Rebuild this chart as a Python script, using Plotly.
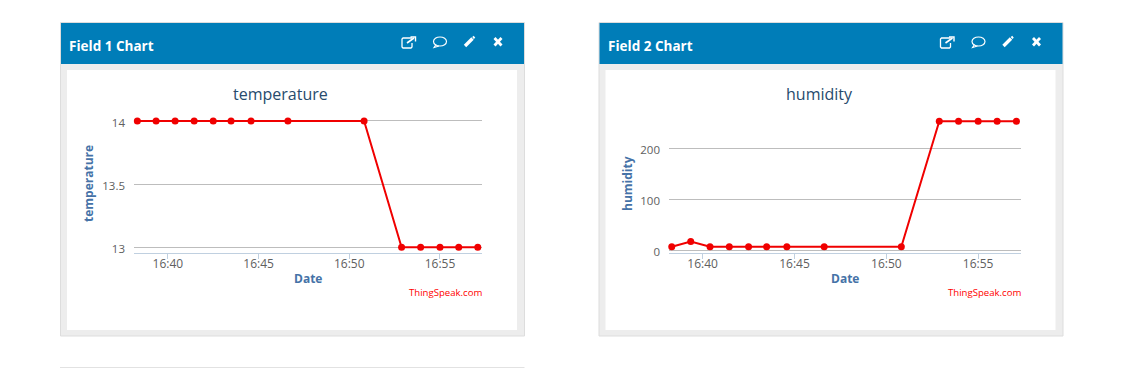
import plotly.graph_objects as go

DAY = "2015-06-01 "
times = ["16:38:19", "16:39:21", "16:40:24", "16:41:27", "16:42:30", "16:43:29", "16:44:35",
         "16:46:37", "16:50:49", "16:52:53", "16:53:56", "16:55:00", "16:56:02", "16:57:05"]
temperature = [14, 14, 14, 14, 14, 14, 14, 14, 14, 13, 13, 13, 13, 13]
humidity = [7, 17, 7, 7, 7, 7, 7, 7, 7, 253, 253, 253, 253, 253]
x_tick_times = ["16:40", "16:45", "16:50", "16:55"]
temp_ticks = [13, 13.5, 14]
temp_tick_labels = ["13", "13.5", "14"]
hum_ticks = [0, 100, 200]
hum_tick_labels = ["0", "100", "200"]

W, H = 1135, 368
FONT = "Open Sans"
BLUE = "#007DB8"
xs = [DAY + t for t in times]
tickx = [DAY + t + ":00" for t in x_tick_times]


def px(x):
    return x / W


def py(y):
    return 1 - y / H


shapes = []
annotations = []


def rect(x0, y0, x1, y1, fill, line=None):
    shapes.append(dict(type="rect", xref="paper", yref="paper", x0=px(x0), x1=px(x1), y0=py(y0), y1=py(y1),
                       fillcolor=fill, line=dict(color=line or fill, width=1 if line else 0), layer="below"))


def path(points, width=1.3, fill=None, close=False):
    d = "M " + " L ".join(f"{px(a):.5f},{py(b):.5f}" for a, b in points) + (" Z" if close else "")
    shapes.append(dict(type="path", xref="paper", yref="paper", path=d, layer="below",
                       line=dict(color="white", width=width), fillcolor=fill or "rgba(0,0,0,0)"))


def text(s, x, y, size, color, anchor="center", bold=False, angle=0):
    annotations.append(dict(text=f"<b>{s}</b>" if bold else s, x=px(x), y=py(y), xref="paper", yref="paper",
                            xanchor=anchor, yanchor="middle", showarrow=False, textangle=angle,
                            font=dict(family=FONT, size=size, color=color)))


def panel(x, header):
    rect(x + 0.5, 22.5, x + 464.5, 336, "#EDEDED", "#DDDDDD")
    rect(x + 1, 23, x + 464, 64, BLUE)
    rect(x + 7, 70, x + 457, 330, "white")
    text(header, x + 7, 46, 13.5, "white", "left", True)
    # toolbar icons
    o = x
    path([(o + 352, 38), (o + 343, 38), (o + 342, 39), (o + 342, 47), (o + 343, 48), (o + 351, 48), (o + 352, 47), (o + 352, 43)])
    path([(o + 347, 43), (o + 354, 38)], 1.6)
    path([(o + 350.5, 37), (o + 355.5, 37), (o + 355.5, 41.5)], 1.4)
    shapes.append(dict(type="circle", xref="paper", yref="paper", x0=px(o + 373.5), x1=px(o + 386.5), y0=py(37), y1=py(46),
                       line=dict(color="white", width=1.2), layer="below"))
    path([(o + 376, 44.5), (o + 374, 47.5), (o + 379, 46)], 1.1)
    path([(o + 405, 46), (o + 412.5, 38.5)], 3.4)
    path([(o + 413, 38), (o + 414.5, 36.8)], 2.5)
    path([(o + 434.5, 38), (o + 441.5, 45.5)], 2.8)
    path([(o + 441.5, 38), (o + 434.5, 45.5)], 2.8)


panel(60, "Field 1 Chart")
panel(598.5, "Field 2 Chart")
shapes.append(dict(type="line", xref="paper", yref="paper", x0=px(60), x1=px(524.5), y0=py(367.5), y1=py(367.5),
                   line=dict(color="#E2E2E2", width=1), layer="below"))

text("temperature", 280, 94, 16, "#274B6D")
text("humidity", 819, 94, 16, "#274B6D")
text("Date", 308, 278.5, 12, "#4572A7", bold=True)
text("Date", 845, 278.5, 12, "#4572A7", bold=True)
text("temperature", 88, 184, 12, "#4572A7", bold=True, angle=-90)
text("humidity", 627, 184, 12, "#4572A7", bold=True, angle=-90)
text("ThingSpeak.com", 484, 292, 9.6, "#FF0000", "right")
text("ThingSpeak.com", 1023, 292, 9.6, "#FF0000", "right")

fig = go.Figure()
for ys, xa, ya in [(temperature, "x", "y"), (humidity, "x2", "y2")]:
    fig.add_trace(go.Scatter(x=xs, y=ys, xaxis=xa, yaxis=ya, mode="lines+markers", cliponaxis=False,
                             line=dict(color="#F00000", width=2),
                             marker=dict(color="#F00000", size=7), showlegend=False))


def xaxis(x0, x1, rng):
    return dict(type="date", domain=[px(x0), px(x1)], range=rng, tickmode="array", tickvals=tickx, ticktext=x_tick_times,
                ticks="outside", ticklen=5, tickwidth=1, tickcolor="#C0D0E0", showline=True, linecolor="#C0D0E0",
                linewidth=1, showgrid=False, zeroline=False, ticklabelstandoff=-6,
                tickfont=dict(family=FONT, size=12, color="#606060"))


def yaxis(anchor, y0, y1, rng, vals, labels):
    return dict(domain=[py(y1), py(y0)], range=rng, anchor=anchor, tickmode="array", tickvals=vals, ticktext=labels,
                showgrid=True, gridcolor="#BDBDBD", gridwidth=1, zeroline=False, showline=False, ticks="",
                ticklabelstandoff=8, ticklabelshift=2, tickfont=dict(family=FONT, size=11.5, color="#606060"))


fig.update_layout(
    width=W, height=H, margin=dict(l=0, r=0, t=0, b=0, autoexpand=False), paper_bgcolor="white", plot_bgcolor="rgba(0,0,0,0)",
    xaxis=xaxis(134, 481.7, [DAY + "16:38:08", DAY + "16:57:18"]),
    yaxis=yaxis("x", 111, 253.3, [12.952, 14.079], temp_ticks, temp_tick_labels),
    xaxis2=xaxis(669, 1021, [DAY + "16:38:10", DAY + "16:57:20"]),
    yaxis2=yaxis("x2", 111, 253.3, [-5.9, 273.1], hum_ticks, hum_tick_labels),
    shapes=shapes, annotations=annotations,
)
fig.write_html("out.html", config={"displayModeBar": False},
               post_script="document.body.style.margin='0';document.body.style.overflow='hidden';")
